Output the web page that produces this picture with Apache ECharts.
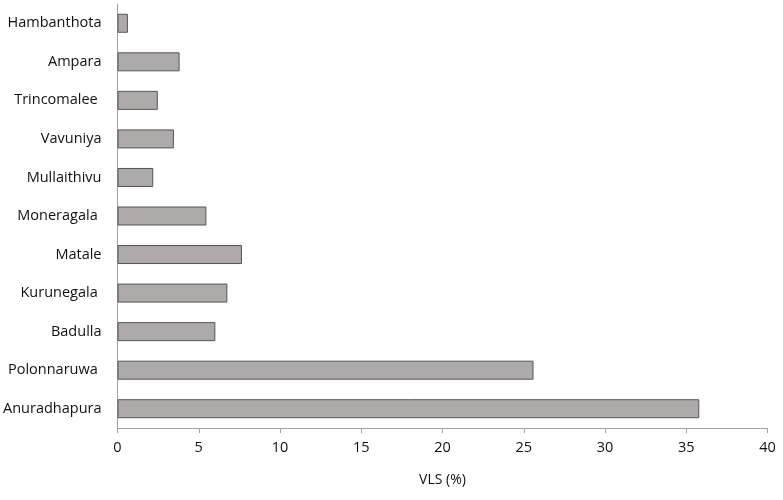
<!DOCTYPE html>
<html><head><meta charset="utf-8">
<script src="https://cdn.jsdelivr.net/npm/echarts@6/dist/echarts.min.js"></script>
<style>html,body{margin:0;padding:0;background:#fff}#c{width:783px;height:500px}</style>
</head><body><div id="c"></div>
<script>
const categories = ["Anuradhapura", "Polonnaruwa ", "Badulla", "Kurunegala ", "Matale", "Moneragala ", "Mullaithivu", "Vavuniya", "Trincomalee ", "Ampara", "Hambanthota"];
const vls = [35.8, 25.6, 6.02, 6.76, 7.66, 5.47, 2.2, 3.47, 2.48, 3.82, 0.64];
const xTicks = [0, 5, 10, 15, 20, 25, 30, 35, 40];

const chart = echarts.init(document.getElementById('c'), null, {renderer: 'canvas'});
chart.setOption({
  animation: false,
  grid: {left: 116, right: 15.5, top: 4, bottom: 72},
  xAxis: {
    type: 'value', min: xTicks[0], max: xTicks[xTicks.length - 1], interval: 5,
    name: 'VLS (%)', nameLocation: 'middle', nameGap: 45,
    nameTextStyle: {fontFamily: 'Open Sans', fontSize: 14, color: '#111'},
    axisLine: {show: true, lineStyle: {color: '#a0a0a0', width: 1}},
    axisTick: {show: true, length: 5, lineStyle: {color: '#a0a0a0'}},
    axisLabel: {fontFamily: 'Open Sans', fontSize: 14.5, color: '#111', margin: 12},
    splitLine: {show: false}
  },
  yAxis: {
    type: 'category', data: categories,
    axisLine: {show: true, lineStyle: {color: '#a0a0a0', width: 1}},
    axisTick: {show: false},
    axisLabel: {fontFamily: 'Open Sans', fontSize: 14.5, color: '#111', margin: 16}
  },
  series: [{
    type: 'bar', data: vls, barWidth: 19,
    itemStyle: {color: '#aeaaaa', borderColor: '#555555', borderWidth: 1}
  }]
});
</script></body></html>
